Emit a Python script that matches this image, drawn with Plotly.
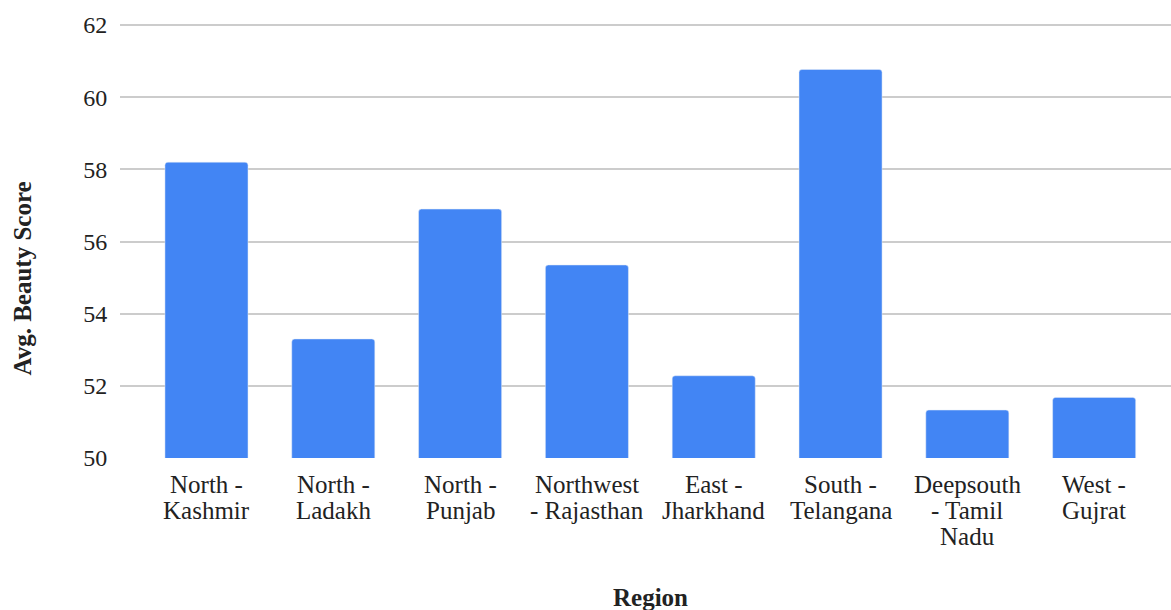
import plotly.graph_objects as go

regions = [
    "North -<br>Kashmir",
    "North -<br>Ladakh",
    "North -<br>Punjab",
    "Northwest<br>- Rajasthan",
    "East -<br>Jharkhand",
    "South -<br>Telangana",
    "Deepsouth<br>- Tamil<br>Nadu",
    "West -<br>Gujrat",
]
scores = [58.2, 53.3, 56.9, 55.35, 52.28, 60.77, 51.33, 51.68]
y_ticks = [50, 52, 54, 56, 58, 60, 62]

serif = "Times New Roman, Liberation Serif, serif"
text_color = "#222"
label_size = 25
line_step = 26  # px between wrapped category label lines

fig = go.Figure(
    go.Bar(
        x=list(range(len(regions))),
        y=scores,
        marker=dict(color="#4285F4", cornerradius=3),
        width=0.655,
        hoverinfo="skip",
    )
)

# Category labels, one annotation per wrapped line for tighter line spacing
annotations = []
for i, label in enumerate(regions):
    for j, part in enumerate(label.split("<br>")):
        annotations.append(dict(
            text=part,
            xref="x", yref="paper",
            x=i, y=0,
            xanchor="center", yanchor="middle",
            yshift=-(26 + j * line_step),
            showarrow=False,
            font=dict(family=serif, size=label_size, color=text_color),
        ))

annotations += [
    dict(
        text="<b>Avg. Beauty Score</b>",
        xref="paper", yref="paper",
        x=-0.0932, y=0.4136,
        xanchor="center", yanchor="middle",
        textangle=-90,
        showarrow=False,
        font=dict(family=serif, size=25, color=text_color),
    ),
    dict(
        text="<b>Region</b>",
        xref="paper", yref="paper",
        x=0.505, y=-0.322,
        xanchor="center", yanchor="middle",
        showarrow=False,
        font=dict(family=serif, size=25, color=text_color),
    ),
]

fig.update_layout(
    width=1171,
    height=610,
    margin=dict(l=120, r=0, t=24, b=152),
    paper_bgcolor="white",
    plot_bgcolor="white",
    showlegend=False,
    font=dict(family=serif, size=24, color=text_color),
    xaxis=dict(
        tickmode="array",
        tickvals=list(range(len(regions))),
        showticklabels=False,
        range=[-0.682, 7.606],
        showgrid=False,
        showline=False,
        zeroline=False,
        fixedrange=True,
    ),
    yaxis=dict(
        range=[50, 62.03],
        tickvals=y_ticks,
        showgrid=True,
        gridcolor="#cccccc",
        gridwidth=1.5,
        zeroline=False,
        showline=False,
        ticks="outside",
        ticklen=7,
        tickcolor="rgba(0,0,0,0)",
        tickfont=dict(family=serif, size=24, color=text_color),
        fixedrange=True,
    ),
    annotations=annotations,
)

fig.write_html("out.html")
